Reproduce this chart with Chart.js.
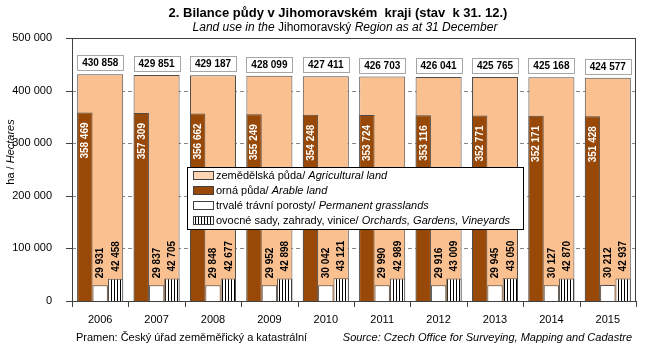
<!DOCTYPE html>
<html><head><meta charset="utf-8">
<script src="https://cdn.jsdelivr.net/npm/chart.js@4.4.1/dist/chart.umd.min.js"></script>
<style>html,body{margin:0;padding:0;background:#fff}</style>
</head><body>
<canvas id="c" width="645" height="350" style="width:645px;height:350px;display:block"></canvas>
<script>
const years = ['2006','2007','2008','2009','2010','2011','2012','2013','2014','2015'];
const agricultural = [430858,429851,429187,428099,427411,426703,426041,425765,425168,424577];
const arable = [358469,357309,356662,355249,354248,353724,353116,352771,352171,351428];
const grasslands = [29931,29837,29848,29952,30042,29990,29916,29945,30127,30212];
const orchards = [42458,42705,42677,42898,43121,42989,43009,43050,42870,42937];
const yTicks = [0,100000,200000,300000,400000,500000];
const legendItems = [
  [['zemědělská půda/ ',false],['Agricultural land',true]],
  [['orná půda/ ',false],['Arable land',true]],
  [['trvalé trávní porosty/ ',false],['Permanent grasslands',true]],
  [['ovocné sady, zahrady, vinice/ ',false],['Orchards, Gardens, Vineyards',true]]
];

const FONT = 'Arial, "Liberation Sans", sans-serif';
const C_AGR = '#FAC090', C_AGR_LEG = '#FCD5B5', C_ARA = '#984807', C_EDGE = '#4d4d4d';

function fmt(v){ return String(v).replace(/\B(?=(\d{3})+(?!\d))/g,' '); }

function makePattern(){
  const p = document.createElement('canvas'); p.width = 3; p.height = 4;
  const g = p.getContext('2d');
  g.fillStyle = '#fff'; g.fillRect(0,0,3,4);
  g.fillStyle = '#000'; g.fillRect(0,0,1,4);
  return document.getElementById('c').getContext('2d').createPattern(p,'repeat');
}

function richWidth(ctx, parts, size, bold){
  let w = 0;
  for (const [t,it] of parts){ ctx.font = (it?'italic ':'') + (bold?'bold ':'') + size + 'px ' + FONT; w += ctx.measureText(t).width; }
  return w;
}
function drawRich(ctx, parts, x, y, size){
  ctx.textAlign = 'left'; ctx.textBaseline = 'middle';
  for (const [t,it] of parts){ ctx.font = (it?'italic ':'') + size + 'px ' + FONT; ctx.fillText(t, x, y); x += ctx.measureText(t).width; }
}

const decor = {
  id: 'decor',
  beforeDatasetsDraw(chart){
    const {ctx, chartArea:a, scales:{y}} = chart;
    ctx.save();
    ctx.strokeStyle = '#868686'; ctx.lineWidth = 1; ctx.setLineDash([4,3]);
    for (const v of yTicks){
      if (v === 0 || v === 500000) continue;
      const py = Math.round(y.getPixelForValue(v)) + 0.5;
      ctx.beginPath(); ctx.moveTo(a.left, py); ctx.lineTo(a.right, py); ctx.stroke();
    }
    ctx.restore();
  },
  afterDatasetsDraw(chart){
    const {ctx, chartArea:a, scales:{x,y}} = chart;
    ctx.save();
    ctx.strokeStyle = '#404040'; ctx.lineWidth = 1;
    ctx.strokeRect(a.left + 0.5, a.top + 0.5, a.right - a.left - 1, a.bottom - a.top);
    for (const v of yTicks){
      const py = Math.round(y.getPixelForValue(v)) + 0.5;
      ctx.beginPath(); ctx.moveTo(a.left - 6, py); ctx.lineTo(a.left, py); ctx.stroke();
    }
    const cw = (a.right - a.left) / years.length;
    for (let i = 0; i <= years.length; i++){
      const px = Math.round(a.left + i * cw) + 0.5;
      ctx.beginPath(); ctx.moveTo(px, a.bottom); ctx.lineTo(px, a.bottom + 6); ctx.stroke();
    }
    const mAgr = chart.getDatasetMeta(3), mAra = chart.getDatasetMeta(0), mGr = chart.getDatasetMeta(1), mOr = chart.getDatasetMeta(2);
    ctx.font = 'bold 10px ' + FONT;
    mAgr.data.forEach((b,i) => {
      const l = Math.round(b.x - b.width/2) + 0.5, w = Math.round(b.width);
      const top = Math.round(b.y) - 19;
      ctx.fillStyle = '#fff'; ctx.fillRect(l, top + 0.5, w, 15);
      ctx.strokeStyle = '#a6a6a6'; ctx.strokeRect(l, top + 0.5, w, 15);
      ctx.fillStyle = '#000'; ctx.textAlign = 'center'; ctx.textBaseline = 'middle';
      ctx.fillText(fmt(agricultural[i]), b.x, top + 8.5);
    });
    const vlabel = (b, txt, color, inside) => {
      ctx.save();
      ctx.fillStyle = color;
      if (inside){ ctx.translate(b.x, b.y + 10); ctx.rotate(-Math.PI/2); ctx.textAlign = 'right'; }
      else { ctx.translate(b.x, b.y - 7); ctx.rotate(-Math.PI/2); ctx.textAlign = 'left'; }
      ctx.textBaseline = 'middle';
      ctx.fillText(txt, 0, 0.5);
      ctx.restore();
    };
    mAra.data.forEach((b,i) => vlabel(b, fmt(arable[i]), '#fff', true));
    mGr.data.forEach((b,i) => vlabel(b, fmt(grasslands[i]), '#000', false));
    mOr.data.forEach((b,i) => vlabel(b, fmt(orchards[i]), '#000', false));

    const LX = 187, LY = 167, LW = 336, LH = 62;
    ctx.fillStyle = '#fff'; ctx.fillRect(LX, LY, LW, LH);
    ctx.strokeStyle = '#000'; ctx.strokeRect(LX + 0.5, LY + 0.5, LW, LH);
    const fills = [C_AGR_LEG, C_ARA, '#fff', chart.data.datasets[2].backgroundColor];
    const rows = [175, 190, 205, 220];
    legendItems.forEach((parts, k) => {
      const cy = rows[k];
      ctx.fillStyle = fills[k]; ctx.fillRect(193, cy - 4, 20, 8);
      ctx.strokeStyle = '#404040'; ctx.strokeRect(193.5, cy - 3.5, 20, 8);
      ctx.fillStyle = '#000';
      drawRich(ctx, parts, 216, cy + 0.5, 11);
    });

    ctx.fillStyle = '#000';
    const title = '2. Bilance půdy v Jihomoravském  kraji (stav  k 31. 12.)';
    ctx.font = 'bold 13px ' + FONT;
    const tw = ctx.measureText(title).width;
    const s = Math.min(1, 344 / tw);
    ctx.save(); ctx.translate(338, 13); ctx.scale(s, 1); ctx.textAlign = 'center'; ctx.textBaseline = 'middle'; ctx.fillText(title, 0, 0); ctx.restore();

    const sub = [['Land use in the ',true],['Jihomoravský',false],[' Region as at 31 December',true]];
    const sw = richWidth(ctx, sub, 12, false);
    drawRich(ctx, sub, 345 - sw/2, 28, 12);

    const yt = [['ha / ',false],['Hectares',true]];
    const yw = richWidth(ctx, yt, 11, false);
    ctx.save(); ctx.translate(11, 152); ctx.rotate(-Math.PI/2);
    drawRich(ctx, yt, -yw/2, 0, 11);
    ctx.restore();

    drawRich(ctx, [['Pramen: Český úřad zeměměřický a katastrální',false]], 76, 338, 11);
    const src = [['Source: Czech Office for Surveying, Mapping and Cadastre',true]];
    const srw = richWidth(ctx, src, 11, false);
    drawRich(ctx, src, 632 - srw, 338, 11);
    ctx.restore();
  }
};

const hatch = makePattern();
new Chart(document.getElementById('c'), {
  type: 'bar',
  data: {
    labels: years,
    datasets: [
      {label:'orná půda', data: arable, backgroundColor: C_ARA, borderColor: C_EDGE, borderWidth: 1, categoryPercentage: 0.816, barPercentage: 1, order: 0},
      {label:'trvalé trávní porosty', data: grasslands, backgroundColor: '#ffffff', borderColor: C_EDGE, borderWidth: 1, categoryPercentage: 0.816, barPercentage: 1, order: 0},
      {label:'ovocné sady, zahrady, vinice', data: orchards, backgroundColor: hatch, borderColor: C_EDGE, borderWidth: 1, categoryPercentage: 0.816, barPercentage: 1, order: 0},
      {label:'zemědělská půda', data: agricultural, backgroundColor: C_AGR, borderColor: C_EDGE, borderWidth: 1, grouped: false, categoryPercentage: 0.816, barPercentage: 1, order: 1}
    ]
  },
  options: {
    responsive: false, animation: false, events: [],
    layout: {padding: {top: 38, right: 9, left: 0, bottom: 0}},
    plugins: {legend: {display: false}, tooltip: {enabled: false}, title: {display: false}},
    scales: {
      x: {grid: {display: false}, border: {display: false},
          ticks: {color: '#000', font: {family: FONT, size: 11}, padding: 4, maxRotation: 0, autoSkip: false},
          afterFit(s){ s.height = 49; }},
      y: {min: 0, max: 500000, grid: {display: false}, border: {display: false},
          ticks: {stepSize: 100000, color: '#000', font: {family: FONT, size: 11}, padding: 12, callback: v => fmt(v)},
          afterFit(s){ s.width = 72; }}
    }
  },
  plugins: [decor]
});
</script>
</body></html>
